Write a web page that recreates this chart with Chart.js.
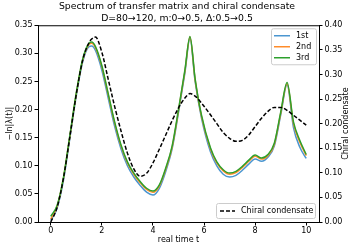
<!DOCTYPE html>
<html lang="en">
<head>
    <meta charset="UTF-8">
    <title>Spectrum of transfer matrix and chiral condensate</title>
    <style>
        body {
            margin: 0;
            padding: 0;
            background: #fff;
        }
        #chart-wrap {
            width: 354px;
            height: 245px;
        }
    </style>
</head>
<body>
    <div id="chart-wrap">
        <canvas id="spectrum-chart" width="354" height="245"></canvas>
    </div>

    <script src="https://cdn.jsdelivr.net/npm/chart.js"></script>
    <script>
        // real time t
        const times = [0, 0.25, 0.5, 0.75, 1.0, 1.25, 1.5, 1.6, 1.75, 2.0, 2.25, 2.5, 2.75, 3.0, 3.25, 3.5, 3.75, 4.0,
            4.25, 4.5, 4.75, 5.0, 5.25, 5.45, 5.65, 5.9, 6.25, 6.5, 6.75, 7.0, 7.25, 7.5, 7.75, 8.0, 8.25, 8.5,
            8.75, 9.0, 9.25, 9.5, 9.75, 10.0];

        // -ln|lambda(t)| for the three leading eigenvalues
        const first = [0.003, 0.025, 0.075, 0.150, 0.225, 0.285, 0.312, 0.313, 0.305, 0.270, 0.220, 0.170, 0.130, 0.100,
            0.080, 0.065, 0.053, 0.048, 0.060, 0.090, 0.130, 0.195, 0.265, 0.327, 0.250, 0.185, 0.125, 0.100,
            0.085, 0.080, 0.083, 0.092, 0.103, 0.112, 0.108, 0.115, 0.135, 0.190, 0.244, 0.168, 0.133, 0.113];
        const second = [0.005, 0.028, 0.079, 0.153, 0.228, 0.288, 0.316, 0.318, 0.310, 0.276, 0.226, 0.176, 0.135, 0.105,
            0.085, 0.070, 0.058, 0.053, 0.064, 0.094, 0.133, 0.198, 0.268, 0.329, 0.253, 0.188, 0.130, 0.105,
            0.091, 0.085, 0.088, 0.097, 0.108, 0.117, 0.112, 0.118, 0.138, 0.193, 0.246, 0.175, 0.142, 0.118];
        const third = [0.010, 0.030, 0.080, 0.155, 0.230, 0.290, 0.318, 0.320, 0.312, 0.278, 0.228, 0.178, 0.137, 0.107,
            0.087, 0.072, 0.060, 0.055, 0.066, 0.096, 0.135, 0.200, 0.270, 0.330, 0.255, 0.190, 0.132, 0.107,
            0.093, 0.087, 0.090, 0.099, 0.110, 0.119, 0.114, 0.120, 0.140, 0.195, 0.248, 0.178, 0.145, 0.120];

        // chiral condensate (right axis)
        const chiral = [0.000, 0.030, 0.090, 0.174, 0.260, 0.329, 0.365, 0.372, 0.376, 0.345, 0.290, 0.235, 0.185, 0.140,
            0.108, 0.093, 0.099, 0.120, 0.148, 0.177, 0.206, 0.232, 0.252, 0.261, 0.256, 0.242, 0.218, 0.200,
            0.182, 0.170, 0.164, 0.166, 0.177, 0.194, 0.211, 0.225, 0.233, 0.233, 0.227, 0.217, 0.207, 0.197];

        const xTicks = [0, 2, 4, 6, 8, 10];
        const leftTicks = [0, 0.05, 0.10, 0.15, 0.20, 0.25, 0.30, 0.35];
        const rightTicks = [0, 0.05, 0.10, 0.15, 0.20, 0.25, 0.30, 0.35, 0.40];

        const FONT = 'DejaVu Sans';

        function points(values) {
            return times.map((t, i) => ({ x: t, y: values[i] }));
        }

        // matplotlib style legends inside the axes, top spine, right label
        const insideLegends = {
            id: 'insideLegends',
            afterDraw(chart) {
                const ctx = chart.ctx;
                const area = chart.chartArea;
                const sets = chart.data.datasets;

                ctx.save();
                ctx.strokeStyle = '#000';
                ctx.lineWidth = 1;
                ctx.beginPath();
                ctx.moveTo(area.left, area.top + 0.5);
                ctx.lineTo(area.right, area.top + 0.5);
                ctx.stroke();

                ctx.font = '8px "' + FONT + '"';
                ctx.textBaseline = 'middle';
                ctx.textAlign = 'left';

                function frame(x, y, w, h) {
                    ctx.fillStyle = 'rgba(255,255,255,0.8)';
                    ctx.strokeStyle = '#cccccc';
                    ctx.lineWidth = 1;
                    ctx.beginPath();
                    ctx.roundRect(x + 0.5, y + 0.5, w, h, 2);
                    ctx.fill();
                    ctx.stroke();
                }

                // upper right: eigenvalues
                const boxW = 45, boxH = 36;
                const bx = area.right - boxW - 3, by = area.top + 3;
                frame(bx, by, boxW, boxH);
                [0, 1, 2].forEach(i => {
                    const y = by + 7.5 + i * 11;
                    ctx.strokeStyle = sets[i].borderColor;
                    ctx.lineWidth = 1.5;
                    ctx.setLineDash([]);
                    ctx.beginPath();
                    ctx.moveTo(bx + 3, y);
                    ctx.lineTo(bx + 19, y);
                    ctx.stroke();
                    ctx.fillStyle = '#000';
                    ctx.fillText(sets[i].label, bx + 25, y);
                });

                // lower right: chiral condensate
                const cw = 99, ch = 15;
                const cx = area.right - cw - 4, cy = area.bottom - ch - 4;
                frame(cx, cy, cw, ch);
                ctx.strokeStyle = '#000';
                ctx.lineWidth = 1.5;
                ctx.setLineDash([4, 2]);
                ctx.beginPath();
                ctx.moveTo(cx + 4, cy + ch / 2 + 0.5);
                ctx.lineTo(cx + 19, cy + ch / 2 + 0.5);
                ctx.stroke();
                ctx.setLineDash([]);
                ctx.fillStyle = '#000';
                ctx.fillText(sets[3].label, cx + 25, cy + ch / 2 + 0.5);

                // right axis label, reading bottom to top like matplotlib
                ctx.translate(chart.width - 8, (area.top + area.bottom) / 2);
                ctx.rotate(-Math.PI / 2);
                ctx.textAlign = 'center';
                ctx.fillText('Chiral condensate', 0, 0);
                ctx.restore();
            }
        };

        const ctx = document.getElementById('spectrum-chart').getContext('2d');
        new Chart(ctx, {
            type: 'line',
            data: {
                datasets: [
                    { label: '1st', data: points(first), borderColor: '#4b96d0', yAxisID: 'y', order: 3 },
                    { label: '2nd', data: points(second), borderColor: '#ff8c2a', yAxisID: 'y', order: 2 },
                    { label: '3rd', data: points(third), borderColor: '#2ca02c', yAxisID: 'y', order: 1 },
                    { label: 'Chiral condensate', data: points(chiral), borderColor: '#000', borderDash: [4, 2],
                      yAxisID: 'y1', order: 0 }
                ]
            },
            options: {
                responsive: false,
                animation: false,
                layout: { padding: 0 },
                elements: {
                    point: { radius: 0 },
                    line: { borderWidth: 1.5, cubicInterpolationMode: 'monotone', fill: false }
                },
                plugins: {
                    legend: { display: false },
                    tooltip: { enabled: false },
                    title: {
                        display: true,
                        text: ['Spectrum of transfer matrix and chiral condensate',
                               'D=80\u2192120, m:0\u21920.5, \u0394:0.5\u21920.5'],
                        color: '#000',
                        font: { family: FONT, size: 9.3, weight: 'normal', lineHeight: 1.25 },
                        padding: { top: 1, bottom: 1 }
                    }
                },
                scales: {
                    x: {
                        type: 'linear',
                        min: -0.5,
                        max: 10.5,
                        afterBuildTicks: s => { s.ticks = xTicks.map(v => ({ value: v })); },
                        afterFit: s => { s.height = 23; },
                        grid: { drawOnChartArea: false, drawTicks: true, tickLength: 3.5, color: '#000' },
                        border: { display: true, color: '#000', width: 1 },
                        ticks: { color: '#000', padding: 1, maxRotation: 0, font: { family: FONT, size: 8 },
                                 callback: v => String(v) },
                        title: { display: true, text: 'real time t', color: '#000', padding: 0,
                                 font: { family: FONT, size: 8 } }
                    },
                    y: {
                        position: 'left',
                        min: 0,
                        max: 0.35,
                        afterBuildTicks: s => { s.ticks = leftTicks.map(v => ({ value: v })); },
                        afterFit: s => { s.width = 38; },
                        grid: { drawOnChartArea: false, drawTicks: true, tickLength: 3.5, color: '#000' },
                        border: { display: true, color: '#000', width: 1 },
                        ticks: { color: '#000', padding: 2, font: { family: FONT, size: 8 },
                                 callback: v => v.toFixed(2) },
                        title: { display: true, text: '\u2212ln|\u03bb(t)|', color: '#000', padding: 5,
                                 font: { family: FONT, size: 8 } }
                    },
                    y1: {
                        position: 'right',
                        min: 0,
                        max: 0.40,
                        afterBuildTicks: s => { s.ticks = rightTicks.map(v => ({ value: v })); },
                        afterFit: s => { s.width = 35; },
                        grid: { drawOnChartArea: false, drawTicks: true, tickLength: 3.5, color: '#000' },
                        border: { display: true, color: '#000', width: 1 },
                        ticks: { color: '#000', padding: 2, font: { family: FONT, size: 8 },
                                 callback: v => v.toFixed(2) },
                        title: { display: false }
                    }
                }
            },
            plugins: [insideLegends]
        });
    </script>
</body>
</html>
